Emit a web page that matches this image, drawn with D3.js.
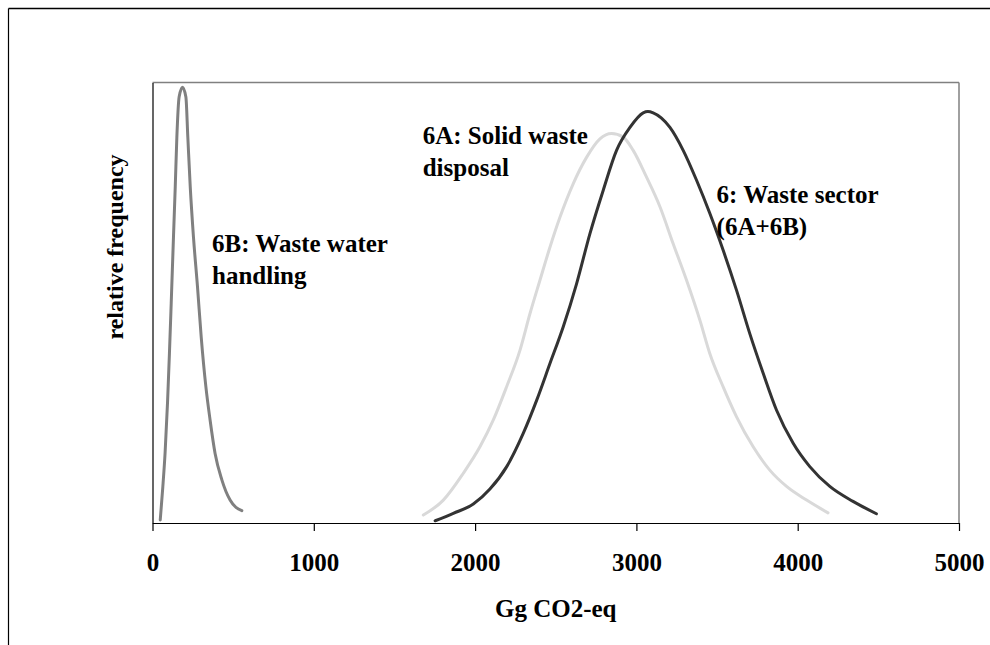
<!DOCTYPE html>
<html>
<head>
<meta charset="utf-8">
<script src="https://cdn.jsdelivr.net/npm/d3@7"></script>
<style>
  html, body { margin: 0; padding: 0; background: #fff; }
  svg { display: block; }
  text { font-family: "Liberation Serif", "Times New Roman", serif; font-weight: bold; fill: #000; }
</style>
</head>
<body>
<svg id="chart" width="990" height="645"></svg>
<script>
// ---- data ----
const xTicks = [0, 1000, 2000, 3000, 4000, 5000];

// 6B: Waste water handling  [Gg CO2-eq, relative frequency]
const wasteWaterX = [48, 64, 78, 93, 105, 116, 130, 141, 151, 165, 186, 207, 219, 234, 254, 279, 302, 331, 357, 388, 430, 481, 554];
const wasteWaterY = [0.007, 0.082, 0.159, 0.272, 0.385, 0.499, 0.649, 0.763, 0.876, 0.967, 0.989, 0.967, 0.876, 0.763, 0.649, 0.536, 0.422, 0.309, 0.234, 0.158, 0.098, 0.052, 0.028];

// 6A: Solid waste disposal
const solidX = [1679, 1803, 1927, 2030, 2113, 2196, 2278, 2340, 2402, 2464, 2526, 2608, 2691, 2774, 2846, 2918, 2980, 3063, 3146, 3228, 3311, 3394, 3455, 3538, 3621, 3724, 3827, 3931, 4055, 4188];
const solidY = [0.018, 0.052, 0.113, 0.173, 0.234, 0.310, 0.392, 0.475, 0.551, 0.626, 0.694, 0.770, 0.830, 0.872, 0.884, 0.876, 0.846, 0.785, 0.718, 0.634, 0.551, 0.460, 0.385, 0.309, 0.241, 0.173, 0.120, 0.083, 0.052, 0.023];

// 6: Waste sector (6A+6B)
const sectorX = [1752, 1865, 1989, 2092, 2196, 2299, 2382, 2464, 2546, 2629, 2712, 2794, 2877, 2960, 3042, 3071, 3104, 3208, 3290, 3373, 3455, 3538, 3621, 3703, 3786, 3869, 3972, 4075, 4199, 4343, 4488];
const sectorY = [0.005, 0.022, 0.043, 0.077, 0.128, 0.204, 0.279, 0.362, 0.445, 0.543, 0.657, 0.755, 0.846, 0.898, 0.931, 0.934, 0.931, 0.898, 0.846, 0.778, 0.703, 0.619, 0.528, 0.430, 0.340, 0.256, 0.181, 0.128, 0.083, 0.049, 0.021];

const labelLines = [["6B: Waste water", "handling"], ["6A: Solid waste", "disposal"], ["6: Waste sector", "(6A+6B)"]];
const labelAnchors = [[369, 0.615], [1675, 0.861], [3497, 0.726]];
const xTitle = "Gg CO2-eq";
const yTitle = "relative frequency";

// ---- layout ----
const svg = d3.select("#chart");
const plot = { left: 152.5, right: 959, top: 82.5, bottom: 523 };

const x = d3.scaleLinear().domain([0, 5000]).range([plot.left, plot.right]);
const y = d3.scaleLinear().domain([0, 1]).range([plot.bottom, plot.top]);

// outer frame
svg.append("line").attr("x1", 8.5).attr("x2", 8.5).attr("y1", 8.5).attr("y2", 645).attr("stroke", "#000").attr("stroke-width", 1.2);
svg.append("line").attr("x1", 8.5).attr("x2", 990).attr("y1", 8.5).attr("y2", 8.5).attr("stroke", "#000").attr("stroke-width", 1.5);

// plot box (top/right gray)
svg.append("line").attr("x1", plot.left).attr("x2", plot.right).attr("y1", plot.top).attr("y2", plot.top).attr("stroke", "#808080").attr("stroke-width", 1.5);
svg.append("line").attr("x1", plot.right).attr("x2", plot.right).attr("y1", plot.top).attr("y2", plot.bottom).attr("stroke", "#808080").attr("stroke-width", 1.5);

// x axis
const xAxis = d3.axisBottom(x).tickValues(xTicks).tickFormat(d3.format("d")).tickSize(8).tickPadding(22).tickSizeOuter(0);
const gx = svg.append("g").attr("transform", `translate(0,${plot.bottom})`).call(xAxis);
gx.select(".domain").attr("stroke", "#000").attr("stroke-width", 1.2);
gx.selectAll(".tick line").attr("stroke", "#000").attr("stroke-width", 1.2);
gx.selectAll(".tick text").attr("font-size", 25).attr("font-family", "Liberation Serif").attr("font-weight", "bold").attr("fill", "#000");

// y axis (no ticks)
const yAxis = d3.axisLeft(y).tickValues([]).tickSizeOuter(0);
const gy = svg.append("g").attr("transform", `translate(${plot.left},0)`).call(yAxis);
gy.select(".domain").attr("stroke", "#000").attr("stroke-width", 1.2);

// axis titles
svg.append("text").attr("x", (plot.left + plot.right) / 2).attr("y", 617).attr("text-anchor", "middle").attr("font-size", 25).text(xTitle);
svg.append("text").attr("transform", "translate(123,247) rotate(-90)").attr("text-anchor", "middle").attr("font-size", 24).text(yTitle);

// curves
const line = d3.line().x(d => x(d[0])).y(d => y(d[1])).curve(d3.curveMonotoneX);
const zipPts = (xs, ys) => xs.map((v, i) => [v, ys[i]]);
const curves = [
  { pts: zipPts(solidX, solidY), color: "#d9d9d9" },
  { pts: zipPts(sectorX, sectorY), color: "#333333" },
  { pts: zipPts(wasteWaterX, wasteWaterY), color: "#808080" }
];
svg.append("g").selectAll("path").data(curves).join("path")
  .attr("d", d => line(d.pts))
  .attr("fill", "none")
  .attr("stroke", d => d.color)
  .attr("stroke-width", 3)
  .attr("stroke-linejoin", "round")
  .attr("stroke-linecap", "round");

// labels
labelLines.forEach((lines, i) => {
  const lx = x(labelAnchors[i][0]);
  const t = svg.append("text").attr("font-size", 25).attr("x", lx).attr("y", y(labelAnchors[i][1]));
  lines.forEach((s, j) => {
    t.append("tspan").attr("x", lx).attr("dy", j === 0 ? 0 : 32).text(s);
  });
});
</script>
</body>
</html>
